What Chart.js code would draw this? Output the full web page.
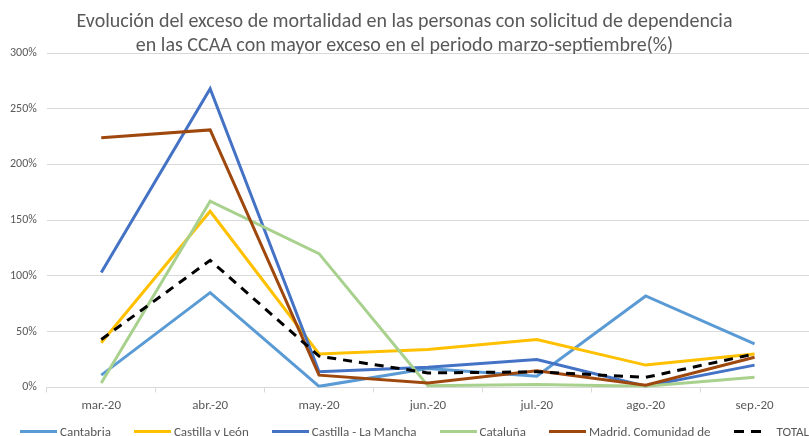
<!DOCTYPE html>
<html>
<head>
<meta charset="utf-8">
<script src="https://cdn.jsdelivr.net/npm/chart.js@4/dist/chart.umd.min.js"></script>
<style>
  html, body { margin: 0; padding: 0; background: #fff; overflow: hidden; }
  #wrap { position: relative; width: 809px; height: 436px; }
  #legend {
    position: absolute; left: 20px; top: 423px; height: 16px;
    display: flex; align-items: center; white-space: nowrap;
    font-family: Carlito, Lato, sans-serif; font-size: 13px; color: #595959;
  }
  .item { display: flex; align-items: center; margin-right: 23px; }
  .swatch { width: 37px; height: 3px; margin-right: 3px; }
</style>
</head>
<body>
<div id="wrap">
  <canvas id="chart"></canvas>
  <div id="legend"></div>
</div>
<script>
// months on the x axis
const months = ['mar.-20', 'abr.-20', 'may.-20', 'jun.-20', 'jul.-20', 'ago.-20', 'sep.-20'];

// excess mortality, %
const cantabria = [11, 85, 1, 17, 10, 82, 39];
const castillaLeon = [40, 158, 30, 34, 43, 20, 30];
const castillaMancha = [103, 268, 14, 18, 25, 1, 20];
const cataluna = [4, 167, 120, 1.5, 2.5, 1, 9];
const madrid = [224, 231, 11, 4, 15, 2, 27];
const total = [43, 114, 28, 13, 14, 9, 30];

const seriesNames = ['Cantabria', 'Castilla y León', 'Castilla - La Mancha', 'Cataluña', 'Madrid, Comunidad de', 'TOTAL'];
const seriesColors = ['#5B9BD5', '#FFC000', '#4472C4', '#A9D18E', '#9E480E', '#000000'];
const yTicks = [0, 50, 100, 150, 200, 250, 300];

const fontFamily = 'Carlito, Lato, sans-serif';
const textColor = '#595959';

const allSeries = [cantabria, castillaLeon, castillaMancha, cataluna, madrid, total];

// later series drawn on top, like the original
const datasets = allSeries.map((values, i) => ({
    label: seriesNames[i],
    data: values,
    borderColor: seriesColors[i],
    backgroundColor: seriesColors[i],
    borderWidth: 3,
    borderDash: seriesNames[i] === 'TOTAL' ? [9, 7] : [],
    pointRadius: 0,
    tension: 0,
    order: allSeries.length - i
}));

const chart = new Chart(document.getElementById('chart'), {
    type: 'line',
    data: { labels: months, datasets: datasets },
    options: {
        responsive: true,
        maintainAspectRatio: false,
        animation: false,
        layout: { padding: { left: 0, right: 0, top: 8, bottom: 16 } },
        plugins: {
            title: {
                display: true,
                text: ['Evolución del exceso de mortalidad en las personas con solicitud de dependencia',
                       'en las CCAA con mayor exceso en el periodo marzo-septiembre(%)'],
                color: textColor,
                font: { family: fontFamily, size: 20, weight: 'normal', lineHeight: 1.2 },
                padding: { top: 2, bottom: -5 }
            },
            legend: { display: false },
            tooltip: { enabled: false }
        },
        scales: {
            x: {
                offset: true,
                grid: {
                    offset: true,
                    drawOnChartArea: false,
                    drawTicks: true,
                    tickLength: 5,
                    color: '#d9d9d9'
                },
                border: { color: '#d9d9d9' },
                ticks: {
                    color: textColor,
                    font: { family: fontFamily, size: 13 },
                    padding: 6
                }
            },
            y: {
                min: 0,
                max: 300,
                afterBuildTicks: axis => { axis.ticks = yTicks.map(v => ({ value: v })); },
                grid: { color: '#d9d9d9', drawTicks: false },
                border: { display: false },
                ticks: {
                    color: textColor,
                    font: { family: fontFamily, size: 12 },
                    padding: 10,
                    callback: v => v + '%'
                }
            }
        }
    }
});

// legend under the chart, one line like the original
function buildLegend(c) {
    const legend = document.getElementById('legend');
    legend.innerHTML = '';
    c.data.datasets.forEach(ds => {
        const item = document.createElement('div');
        item.className = 'item';
        const swatch = document.createElement('span');
        swatch.className = 'swatch';
        if (ds.borderDash.length) {
            swatch.style.width = '31px';
            swatch.style.marginRight = '12px';
            swatch.style.background = `repeating-linear-gradient(to right, ${ds.borderColor} 0 10px, transparent 10px 17px)`;
        } else {
            swatch.style.background = ds.borderColor;
        }
        const text = document.createElement('span');
        text.textContent = ds.label;
        item.appendChild(swatch);
        item.appendChild(text);
        legend.appendChild(item);
    });
}

buildLegend(chart);
</script>
</body>
</html>
